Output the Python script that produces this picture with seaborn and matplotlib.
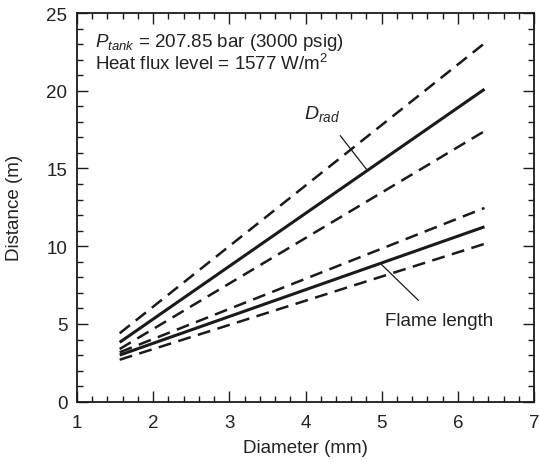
import matplotlib
matplotlib.use("Agg")
import matplotlib.pyplot as plt
from matplotlib.ticker import MultipleLocator
import seaborn as sns
import pandas as pd

# Release diameter (mm) at the two ends of each curve
diameter_mm = [1.56, 6.35]

# Radiation hazard distance and its bounds (m)
d_rad = [3.82, 20.10]
d_rad_upper = [4.40, 23.05]
d_rad_lower = [3.39, 17.40]

# Flame length and its bounds (m)
flame = [3.00, 11.25]
flame_upper = [3.18, 12.46]
flame_lower = [2.70, 10.15]

x_ticks = [1, 2, 3, 4, 5, 6, 7]
y_ticks = [0, 5, 10, 15, 20, 25]

sns.set_theme(style="ticks")
plt.rcParams["font.family"] = ["Liberation Sans", "DejaVu Sans"]
plt.rcParams["mathtext.fontset"] = "custom"
plt.rcParams["mathtext.rm"] = "Liberation Sans"
plt.rcParams["mathtext.it"] = "Liberation Sans:italic"
plt.rcParams["mathtext.bf"] = "Liberation Sans:bold"

TXT = "#222222"
INK = "#1a1a1a"

fig = plt.figure(figsize=(5.39, 4.64), dpi=100)
ax = fig.add_axes([0.1429, 0.1321, 0.9907 - 0.1429, 0.9698 - 0.1321])

series = [
    ("D_rad", d_rad, "solid"),
    ("D_rad upper", d_rad_upper, "dashed"),
    ("D_rad lower", d_rad_lower, "dashed"),
    ("Flame", flame, "solid"),
    ("Flame upper", flame_upper, "dashed"),
    ("Flame lower", flame_lower, "dashed"),
]

for name, vals, kind in series:
    df = pd.DataFrame({"Diameter": diameter_mm, "Distance": vals})
    if kind == "solid":
        sns.lineplot(data=df, x="Diameter", y="Distance", ax=ax, color=INK,
                     linewidth=2.2, solid_capstyle="butt")
    else:
        line = sns.lineplot(data=df, x="Diameter", y="Distance", ax=ax, color=INK,
                            linewidth=1.8, dash_capstyle="butt").lines[-1]
        line.set_dashes((5.2, 3.0))

ax.set_xlim(1, 7)
ax.set_ylim(0, 25)
ax.set_xticks(x_ticks)
ax.set_yticks(y_ticks)
ax.xaxis.set_minor_locator(MultipleLocator(0.2))
ax.yaxis.set_minor_locator(MultipleLocator(1))
ax.tick_params(which="both", direction="in", top=True, right=True,
               colors=INK, labelcolor=TXT, labelsize=13.5, width=1.0)
ax.tick_params(which="major", length=8)
ax.tick_params(which="minor", length=4.3)
ax.tick_params(axis="x", which="major", pad=8.5)
ax.tick_params(axis="y", which="major", pad=7)
for sp in ax.spines.values():
    sp.set_linewidth(1.3)
    sp.set_color(INK)

ax.set_xlabel("Diameter (mm)", fontsize=13.5, color=TXT)
ax.set_ylabel("Distance (m)", fontsize=13.5, color=TXT)
ax.xaxis.set_label_coords(0.5, -0.095)
ax.yaxis.set_label_coords(-0.118, 0.5)

ax.text(1.23, 23.15, r"$P_{tank}$ = 207.85 bar (3000 psig)", fontsize=13.5,
        color=TXT, va="center", ha="left")
ax.text(1.23, 21.8, r"Heat flux level = 1577 W/m$^2$", fontsize=13.5,
        color=TXT, va="center", ha="left")

# Leader lines and curve labels
ax.annotate(r"$D_{rad}$", xy=(4.80, 14.95), xytext=(4.22, 18.6),
            fontsize=14, color=TXT, ha="center", va="center",
            arrowprops=dict(arrowstyle="-", color=INK, lw=0.9,
                            shrinkA=9, shrinkB=0))
ax.annotate("Flame length", xy=(4.99, 8.86), xytext=(5.76, 5.2),
            fontsize=13.5, color=TXT, ha="center", va="center",
            arrowprops=dict(arrowstyle="-", color=INK, lw=0.9,
                            shrinkA=9, shrinkB=0))

fig.savefig("out.png", dpi=100)
